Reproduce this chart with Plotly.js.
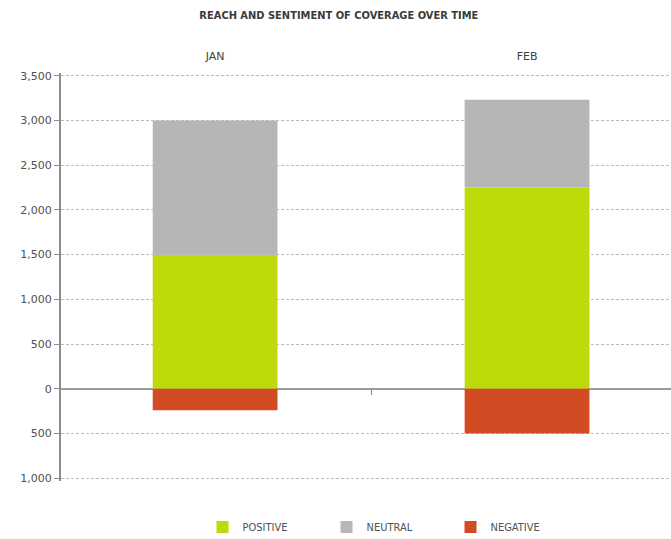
<!DOCTYPE html>
<html>
<head>
<meta charset="utf-8">
<script src="https://cdn.plot.ly/plotly-3.0.1.min.js"></script>
<style>
  html, body { margin: 0; padding: 0; background: #fff; }
  #chart { width: 671px; height: 539px; }
</style>
</head>
<body>
<div id="chart"></div>
<script>
// Monthly coverage reach, split by sentiment
const months = ['JAN', 'FEB'];
const positive = [1500, 2250];
const neutral = [1500, 980];
const negative = [-240, -500];

// Axis ticks: negatives are labelled by magnitude
const yTickVals = [-1000, -500, 0, 500, 1000, 1500, 2000, 2500, 3000, 3500];
const yTickText = ['1,000', '500', '0', '500', '1,000', '1,500', '2,000', '2,500', '3,000', '3,500'];

const FONT = '"DejaVu Sans", sans-serif';
const FONT_NARROW = '"DejaVu Sans Condensed", "DejaVu Sans", sans-serif';

const traces = [
  { type: 'bar', name: 'POSITIVE', x: months, y: positive,
    marker: { color: '#BFDA0A' }, width: 0.4 },
  { type: 'bar', name: 'NEUTRAL', x: months, y: neutral,
    marker: { color: '#B6B6B6' }, width: 0.4 },
  { type: 'bar', name: 'NEGATIVE', x: months, y: negative,
    marker: { color: '#D34B22' }, width: 0.4 }
];

const xRange = [-0.494, 1.4615];
const yRange = [-1030, 3530];

const layout = {
  width: 671, height: 539,
  margin: { l: 61, r: 0, t: 73, b: 58, pad: 0 },
  paper_bgcolor: '#fff', plot_bgcolor: '#fff',
  barmode: 'relative',
  showlegend: true,
  font: { family: FONT, size: 11, color: '#505050' },
  title: {
    text: 'REACH AND SENTIMENT OF COVERAGE OVER TIME',
    font: { family: FONT_NARROW, size: 11, color: '#3a3a3a', weight: 'bold' },
    x: 0.505, xref: 'container', xanchor: 'center', y: 0.972, yanchor: 'middle'
  },
  xaxis: {
    type: 'category', side: 'top', range: xRange,
    showline: false, showgrid: false, zeroline: false, ticks: '',
    ticklabelstandoff: 10,
    tickfont: { family: FONT, size: 11, color: '#404040' }
  },
  // boundary tick between the months, sitting on the zero line
  xaxis2: {
    overlaying: 'x', anchor: 'free', position: (0 - yRange[0]) / (yRange[1] - yRange[0]),
    range: xRange, tickvals: [0.5], ticks: 'outside', ticklen: 5,
    tickcolor: '#888', tickwidth: 1, showticklabels: false,
    showline: false, showgrid: false, zeroline: false
  },
  yaxis: {
    range: yRange, tickvals: yTickVals, ticktext: yTickText,
    showline: true, linecolor: '#8c8c8c', linewidth: 2,
    ticks: 'outside', ticklen: 5, tickcolor: '#8c8c8c', tickwidth: 1,
    showgrid: true, gridcolor: '#bdbdbd', griddash: '3px,2px', gridwidth: 1,
    zeroline: true, zerolinecolor: '#9a9a9a', zerolinewidth: 2,
    tickfont: { family: FONT, size: 11, color: '#505050' }
  },
  legend: {
    orientation: 'h', x: 0.232, xanchor: 'left',
    yref: 'container', y: 0.0223, yanchor: 'middle',
    entrywidth: 79, entrywidthmode: 'pixels', itemwidth: 30,
    font: { family: FONT_NARROW, size: 11, color: '#505050' },
    bgcolor: 'rgba(0,0,0,0)'
  }
};

// invisible trace so xaxis2 is drawn
traces.push({ type: 'scatter', x: [0.5], y: [0], xaxis: 'x2', mode: 'markers',
  marker: { opacity: 0 }, showlegend: false, hoverinfo: 'skip' });

Plotly.newPlot('chart', traces, layout, { displayModeBar: false, staticPlot: true });
</script>
</body>
</html>
